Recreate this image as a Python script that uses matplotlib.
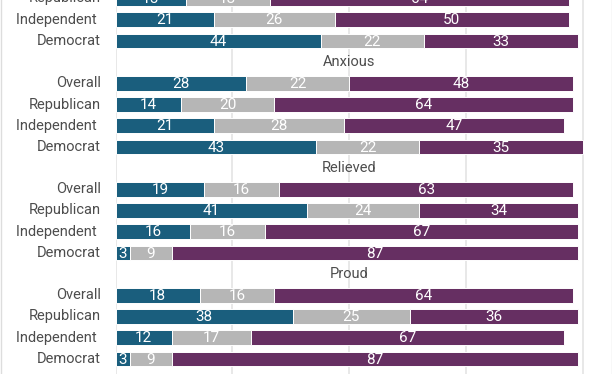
import matplotlib
matplotlib.use('Agg')
import matplotlib.pyplot as plt
from matplotlib.lines import Line2D
import numpy as np

plt.rcParams['font.family'] = ['Roboto', 'DejaVu Sans']

# Data (percent)
parties = ['Overall', 'Republican', 'Independent', 'Democrat']
emotions = ['Anxious', 'Relieved', 'Proud']

# block at the very top is cut off - only its last three rows are visible
top_blue = [15, 21, 44]
top_gray = [18, 26, 22]
top_purple = [64, 50, 33]

blue = [28, 14, 21, 43, 19, 41, 16, 3, 18, 38, 12, 3]
gray = [22, 20, 28, 22, 16, 24, 16, 9, 16, 25, 17, 9]
purple = [48, 64, 47, 35, 63, 34, 67, 87, 64, 36, 67, 87]

C_BLUE = '#1a5e7d'
C_GRAY = '#b6b6b6'
C_PURPLE = '#662f62'
C_TEXT = '#4d4d4d'


def main():
    fig = plt.figure(figsize=(6.12, 3.74), dpi=100)
    ax = fig.add_axes([115.5 / 612, 0, 1 - 115.5 / 612, 1])

    # assemble rows: group g, party index i -> y = 5*g + 1 + i
    ys, labels, b, g_, p = [], [], [], [], []
    for i in range(1, 4):
        ys.append(1 + i)
        labels.append(parties[i])
        b.append(top_blue[i - 1]); g_.append(top_gray[i - 1]); p.append(top_purple[i - 1])
    for gi, emo in enumerate(emotions, start=1):
        for i, party in enumerate(parties):
            k = (gi - 1) * 4 + i
            ys.append(5 * gi + 1 + i)
            labels.append(party)
            b.append(blue[k]); g_.append(gray[k]); p.append(purple[k])
        ax.text(50, 5 * gi - 0.02, emo, ha='center', va='center',
                fontsize=10.5, color=C_TEXT)

    ys = np.array(ys, dtype=float)
    b, g_, p = np.array(b), np.array(g_), np.array(p)

    for x in [0, 25, 50, 75, 100]:
        ax.axvline(x, color='#e6e6e6', lw=1.3, zorder=0)

    h = 0.68
    for vals, left, col in [(b, 0, C_BLUE), (g_, b, C_GRAY), (p, b + g_, C_PURPLE)]:
        ax.barh(ys, vals, left=left, height=h, color=col,
                edgecolor='white', linewidth=0.7, zorder=2)
        lefts = np.zeros_like(vals) + left
        for y, v, l in zip(ys, vals, lefts):
            ax.text(l + v / 2, y + 0.03, str(v), ha='center', va='center',
                    color='white', fontsize=11, zorder=3)

    for y, lab in zip(ys, labels):
        txt = lab + ' ' if lab == 'Independent' else lab
        ax.text(-3.2, y, txt, ha='right', va='center', fontsize=10.5,
                color=C_TEXT, clip_on=False)

    ax.set_xlim(0, (612 - 115.5) / 4.672)
    ax.set_ylim(6 + 290.7 / 21.2, 6 - 83.3 / 21.2)
    ax.axis('off')

    # thin frame lines at the figure edges
    for xf in [0.5 / 612, 611.5 / 612]:
        fig.add_artist(Line2D([xf, xf], [0, 1], color='#dddddd', lw=1,
                              transform=fig.transFigure))

    fig.savefig('out.png', dpi=100)
    plt.close(fig)


if __name__ == '__main__':
    main()
